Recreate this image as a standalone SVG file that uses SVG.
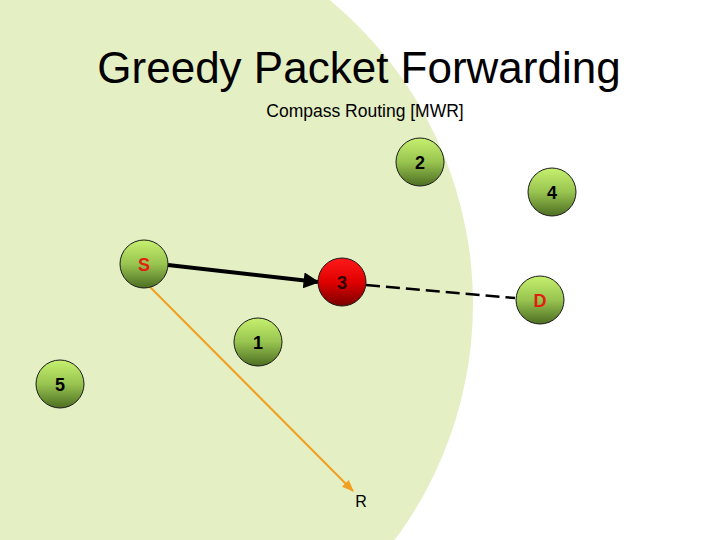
<svg xmlns="http://www.w3.org/2000/svg" width="720" height="540" viewBox="0 0 720 540">
<defs>
<linearGradient id="g" x1="0" y1="0" x2="0" y2="1"><stop offset="0" stop-color="#c6f06e"/><stop offset="0.5" stop-color="#98c450"/><stop offset="1" stop-color="#4d6e22"/></linearGradient>
<linearGradient id="r" x1="0" y1="0" x2="0" y2="1"><stop offset="0" stop-color="#ff1a1a"/><stop offset="0.5" stop-color="#e00000"/><stop offset="1" stop-color="#7a0000"/></linearGradient>
<marker id="ab" viewBox="0 0 10 10" refX="9" refY="5" markerWidth="4" markerHeight="4" orient="auto"><path d="M0,0L10,5L0,10z" fill="#000"/></marker>
<marker id="ao" viewBox="0 0 10 10" refX="9" refY="5" markerWidth="6" markerHeight="6" orient="auto"><path d="M0,1L10,5L0,9z" fill="#f0a020"/></marker>
</defs>
<style>
.n{stroke:#1a1a1a;stroke-width:1}
.t{font-family:"Liberation Sans",Arial,sans-serif;font-weight:bold;font-size:18px;text-anchor:middle}
</style>
<rect width="720" height="540" fill="#fff"/>
<circle cx="79" cy="304" r="394" fill="#e4efc4"/>
<text x="359" y="83" font-family="Liberation Sans,Arial,sans-serif" font-size="44" text-anchor="middle">Greedy Packet Forwarding</text>
<text x="365" y="117" font-family="Liberation Sans,Arial,sans-serif" font-size="17.5" text-anchor="middle">Compass Routing [MWR]</text>
<g id="connectors">
<line x1="168" y1="265" x2="318" y2="282" stroke="#000" stroke-width="4" marker-end="url(#ab)"/>
<line x1="366" y1="285" x2="515" y2="298" stroke="#000" stroke-width="2.5" stroke-dasharray="14,6"/>
<line x1="150" y1="287" x2="353" y2="491" stroke="#f0a020" stroke-width="2" marker-end="url(#ao)"/>
</g>
<g id="nS"><circle class="n" cx="144" cy="264" r="24" fill="url(#g)"/><text class="t" x="144" y="271" fill="#e02010">S</text></g>
<g id="n3"><circle class="n" cx="342" cy="282" r="24" fill="url(#r)"/><text class="t" x="342" y="289" fill="#300000">3</text></g>
<g id="n2"><circle class="n" cx="420" cy="162" r="24" fill="url(#g)"/><text class="t" x="420" y="169">2</text></g>
<g id="n4"><circle class="n" cx="552" cy="192" r="24" fill="url(#g)"/><text class="t" x="552" y="199">4</text></g>
<g id="nD"><circle class="n" cx="540" cy="300" r="24" fill="url(#g)"/><text class="t" x="540" y="307" fill="#e02010">D</text></g>
<g id="n1"><circle class="n" cx="258" cy="342" r="24" fill="url(#g)"/><text class="t" x="258" y="349">1</text></g>
<g id="n5"><circle class="n" cx="60" cy="384" r="24" fill="url(#g)"/><text class="t" x="60" y="391">5</text></g>
<text x="361" y="507" font-family="Liberation Sans,Arial,sans-serif" font-size="16" text-anchor="middle">R</text>
</svg>
